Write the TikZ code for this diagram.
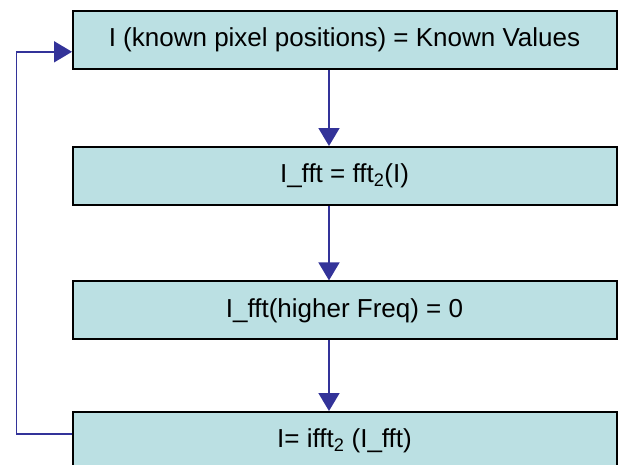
\documentclass[tikz,border=0pt]{standalone}
\usepackage{fontspec}
\setmainfont{Liberation Sans}
\usetikzlibrary{arrows.meta}
\definecolor{boxfill}{RGB}{187,224,227}
\definecolor{arrowblue}{RGB}{51,51,153}
\tikzset{
  box/.style={draw=black, line width=2pt, fill=boxfill, minimum width=544pt, minimum height=58pt, inner sep=0pt, font=\fontsize{26pt}{30pt}\selectfont},
  flow/.style={draw=arrowblue, line width=1.8pt, -{Triangle[length=18pt,width=21pt]}}
}
\begin{document}
\begin{tikzpicture}[x=1pt,y=-1pt]
\useasboundingbox (0,0) rectangle (622,464);
\clip (0,0) rectangle (622,464);
\node[box] (b1) at (344.5,39.8) {I (known pixel positions) = Known Values};
\node[box] (b2) at (344.5,176) {I\_fft = fft\textsubscript{2}(I)};
\node[box] (b3) at (344.5,310.4) {I\_fft(higher Freq) = 0};
\node[box] (b4) at (344.5,441) {I= ifft\textsubscript{2} (I\_fft)};
\coordinate (ax) at (329,0);
\coordinate (lx) at (16.5,0);
\coordinate (in1) at (72,51.8);
\coordinate (out4) at (72,434);
\draw[flow] (b1.south -| ax) -- (b2.north -| ax);
\draw[flow] (b2.south -| ax) -- (b3.north -| ax);
\draw[flow] (b3.south -| ax) -- (b4.north -| ax);
\draw[flow] (out4) -- (out4 -| lx) -- (in1 -| lx) -- (in1);
\end{tikzpicture}
\end{document}
